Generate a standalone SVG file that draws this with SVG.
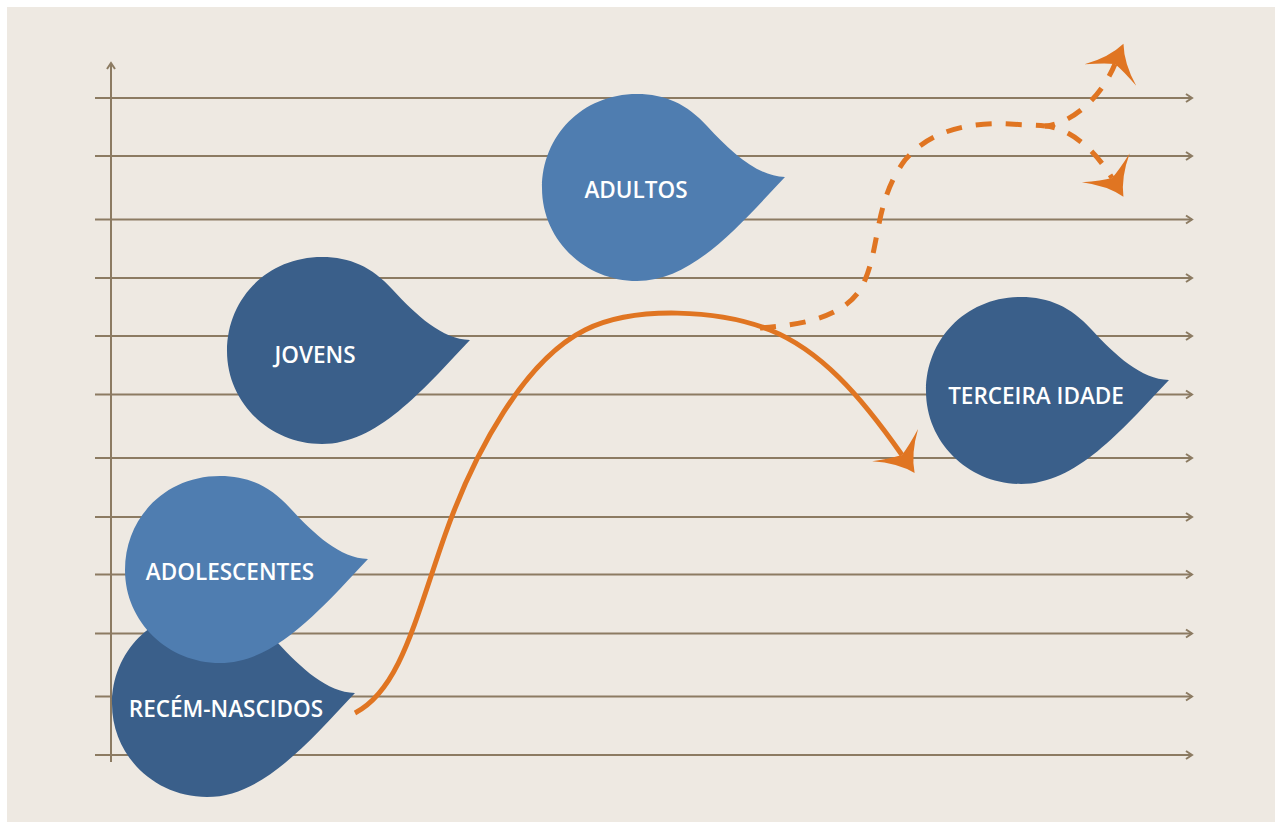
<svg xmlns="http://www.w3.org/2000/svg" width="1282" height="828" viewBox="0 0 1282 828">
<defs>
<style>
.grid{stroke:#8C7B62;stroke-width:2;fill:none}
.leafL{fill:#4F7DB0}
.leafD{fill:#3A5F8A}
.lbl{font-family:"Open Sans","Liberation Sans",sans-serif;font-weight:600;font-size:22.5px;fill:#FFFFFF;text-anchor:middle}
.orange{stroke:#E07522;stroke-width:5;fill:none}
.dash{stroke-dasharray:16 14}
</style>
<marker id="ga" markerUnits="userSpaceOnUse" markerWidth="12" markerHeight="12" refX="0" refY="0" orient="auto" overflow="visible">
<path d="M-6,-4 L0,0 L-6,4" fill="none" stroke="#8C7B62" stroke-width="2"/>
</marker>
<marker id="oa" markerUnits="userSpaceOnUse" markerWidth="60" markerHeight="60" refX="0" refY="0" orient="auto" overflow="visible">
<path d="M22,0 Q4,8 -12,28 Q-3,10 0,0 Q-3,-10 -12,-28 Q4,-8 22,0 Z" fill="#E07522"/>
</marker>
<path id="leaf" d="M148,-11 C120,-12 95,-35 70,-62 C50,-84 28,-94 0,-94 C-55,-94 -95,-52 -95,0 C-95,52 -52,93 0,93 C55,93 100,40 148,-11 Z"/>
</defs>
<rect x="0" y="0" width="1282" height="828" fill="#FFFFFF"/>
<rect x="7" y="7" width="1268" height="815" fill="#EEE9E2"/>
<g id="grid">
<line class="grid" x1="111" y1="762" x2="111" y2="63" marker-end="url(#ga)"/>
<line class="grid" x1="95" y1="98" x2="1192" y2="98" marker-end="url(#ga)"/>
<line class="grid" x1="95" y1="156" x2="1192" y2="156" marker-end="url(#ga)"/>
<line class="grid" x1="95" y1="219.5" x2="1192" y2="219.5" marker-end="url(#ga)"/>
<line class="grid" x1="95" y1="278" x2="1192" y2="278" marker-end="url(#ga)"/>
<line class="grid" x1="95" y1="336" x2="1192" y2="336" marker-end="url(#ga)"/>
<line class="grid" x1="95" y1="394.5" x2="1192" y2="394.5" marker-end="url(#ga)"/>
<line class="grid" x1="95" y1="458" x2="1192" y2="458" marker-end="url(#ga)"/>
<line class="grid" x1="95" y1="517" x2="1192" y2="517" marker-end="url(#ga)"/>
<line class="grid" x1="95" y1="574.5" x2="1192" y2="574.5" marker-end="url(#ga)"/>
<line class="grid" x1="95" y1="633.5" x2="1192" y2="633.5" marker-end="url(#ga)"/>
<line class="grid" x1="95" y1="696.5" x2="1192" y2="696.5" marker-end="url(#ga)"/>
<line class="grid" x1="95" y1="755" x2="1192" y2="755" marker-end="url(#ga)"/>
</g>
<g id="recem-nascidos">
<use href="#leaf" class="leafD" transform="translate(207,704)"/>
<text class="lbl" x="226" y="717">RECÉM-NASCIDOS</text>
</g>
<g id="adolescentes">
<use href="#leaf" class="leafL" transform="translate(220,570)"/>
<text class="lbl" x="230" y="580">ADOLESCENTES</text>
</g>
<g id="jovens">
<use href="#leaf" class="leafD" transform="translate(322,351)"/>
<text class="lbl" x="315" y="363">JOVENS</text>
</g>
<g id="adultos">
<use href="#leaf" class="leafL" transform="translate(637,188)"/>
<text class="lbl" x="636" y="198">ADULTOS</text>
</g>
<g id="terceira-idade">
<use href="#leaf" class="leafD" transform="translate(1021,391)"/>
<text class="lbl" x="1036" y="404">TERCEIRA IDADE</text>
</g>
<g id="connectors">
<path class="orange" d="M355,713 C400,690 415,620 445,535 C475,450 525,360 585,330 C635,305 720,310 770,330 C820,350 860,395 902,455" marker-end="url(#oa)"/>
<path class="orange dash" d="M760,328 C800,325 850,318 865,280 C880,245 875,200 905,160 C930,130 970,122 1010,124 C1025,125 1035,125 1045,126"/>
<path class="orange dash" stroke-dashoffset="6" d="M1045,126 C1070,124 1100,100 1115,64" marker-end="url(#oa)"/>
<path class="orange dash" stroke-dashoffset="6" d="M1045,126 C1070,128 1095,150 1112,178" marker-end="url(#oa)"/>
</g>
</svg>
